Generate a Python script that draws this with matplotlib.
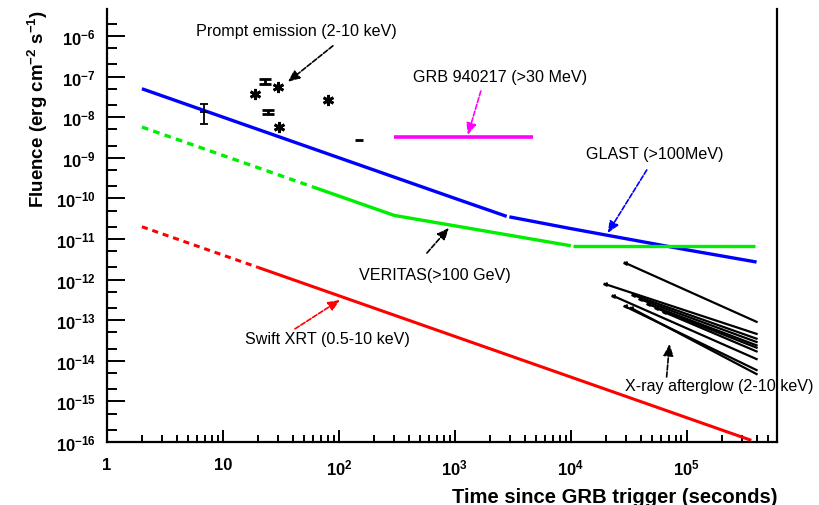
import matplotlib
matplotlib.use("Agg")
import matplotlib.pyplot as plt
from matplotlib.ticker import FixedLocator, LogLocator, NullFormatter

plt.rcParams['font.family'] = ['Liberation Sans', 'DejaVu Sans']
plt.rcParams['mathtext.fontset'] = 'custom'
plt.rcParams['mathtext.rm'] = 'Liberation Sans'
plt.rcParams['mathtext.bf'] = 'Liberation Sans:bold'
plt.rcParams['mathtext.it'] = 'Liberation Sans:italic'
plt.rcParams['mathtext.default'] = 'bf'

# ---- sensitivity curves (time [s], fluence [erg cm^-2 s^-1]) ----
glast_early_t = [2, 1000, 2800]
glast_early_f = [5.0e-8, 1.0e-10, 3.6e-11]
glast_late_t = [2950, 1e4, 1e5, 4.0e5]
glast_late_f = [3.5e-11, 1.8e-11, 5.4e-12, 2.7e-12]

veritas_dash_t = [2, 60]
veritas_dash_f = [5.7e-9, 1.9e-10]
veritas_t = [60, 300, 1.0e4]
veritas_f = [1.9e-10, 3.8e-11, 6.8e-12]
veritas_flat_t = [1.05e4, 3.9e5]
veritas_flat_f = [6.6e-12, 6.6e-12]

xrt_dash_t = [2, 20]
xrt_dash_f = [2.0e-11, 2.0e-12]
xrt_t = [20, 3.6e5]
xrt_f = [2.0e-12, 1.1e-16]

grb940217_t = [300, 4700]
grb940217_f = [3.2e-9, 3.2e-9]

# ---- prompt emission measurements ----
star_t = [18.9, 29.8, 80.4, 30.4]
star_f = [3.7e-8, 5.5e-8, 2.6e-8, 5.7e-9]
bar_t = [23.0, 24.4]
bar_f = [7.4e-8, 1.35e-8]
bar_lo = [6.4e-8, 1.2e-8]
bar_hi = [8.6e-8, 1.5e-8]
flat_t = [149]
flat_f = [2.7e-9]
flat_t_lo = [137]
flat_t_hi = [162]
cross_t = [6.9]
cross_f = [1.35e-8]
cross_lo = [6.8e-9]
cross_hi = [2.1e-8]

# ---- X-ray afterglow decays: start/end time and fluence ----
ag_t0 = [2.92e4, 1.96e4, 2.3e4, 2.92e4, 3.3e4, 3.42e4, 3.93e4, 4.6e4, 5.4e4, 6.3e4]
ag_f0 = [2.6e-12, 7.8e-13, 4.0e-13, 2.2e-13, 2.0e-13, 4.2e-13, 3.3e-13, 2.5e-13, 2.0e-13, 1.6e-13]
ag_t1 = [4.0e5] * 10
ag_f1 = [9.1e-14, 4.6e-14, 1.1e-14, 5.9e-15, 4.7e-15, 3.5e-14, 2.9e-14, 2.4e-14, 2.1e-14, 1.7e-14]

x_ticks = [1, 10, 1e2, 1e3, 1e4, 1e5]
x_ticklabels = ['1', '10', r'$10^{2}$', r'$10^{3}$', r'$10^{4}$', r'$10^{5}$']
y_exponents = [-16, -15, -14, -13, -12, -11, -10, -9, -8, -7, -6]

fig = plt.figure(figsize=(8.19, 5.06), dpi=100)
ax = fig.add_axes([107 / 819, 1 - 443 / 506, (777 - 107) / 819, (443 - 10) / 506])
ax.set_xscale('log')
ax.set_yscale('log')
ax.set_xlim(1, 6.0e5)
ax.set_ylim(1e-16, 4.6e-6)

BLUE, GREEN, RED, MAGENTA = '#0000ff', '#00ee00', '#ff0000', '#ff00ff'

ax.plot(glast_early_t, glast_early_f, color=BLUE, lw=2.4, solid_capstyle='butt')
ax.plot(glast_late_t, glast_late_f, color=BLUE, lw=2.4, solid_capstyle='butt')

ax.plot(veritas_dash_t, veritas_dash_f, color=GREEN, lw=2.4, ls=(0, (2.0, 1.6)))
ax.plot(veritas_t, veritas_f, color=GREEN, lw=2.4, solid_capstyle='butt')
ax.plot(veritas_flat_t, veritas_flat_f, color=GREEN, lw=2.4, solid_capstyle='butt')

ax.plot(xrt_dash_t, xrt_dash_f, color=RED, lw=2.2, ls=(0, (2.0, 1.6)))
ax.plot(xrt_t, xrt_f, color=RED, lw=2.2, solid_capstyle='butt')

ax.plot(grb940217_t, grb940217_f, color=MAGENTA, lw=2.6, solid_capstyle='butt')

for t0, f0, t1, f1 in zip(ag_t0, ag_f0, ag_t1, ag_f1):
    ax.plot([t0, t1], [f0, f1], color='black', lw=1.6)
    ax.plot([t0], [f0], marker='<', color='black', ms=2.5)

ax.plot(star_t, star_f, ls='none', marker=(6, 2, 0), color='black', ms=8, mew=2.0)
ax.errorbar(bar_t, bar_f,
            yerr=[[f - lo for f, lo in zip(bar_f, bar_lo)], [hi - f for f, hi in zip(bar_f, bar_hi)]],
            fmt='none', ecolor='black', elinewidth=2.0, capsize=4, capthick=2.0)
ax.errorbar(flat_t, flat_f,
            xerr=[[t - lo for t, lo in zip(flat_t, flat_t_lo)], [hi - t for t, hi in zip(flat_t, flat_t_hi)]],
            fmt='none', ecolor='black', elinewidth=2.0)
ax.errorbar(cross_t, cross_f,
            yerr=[[f - lo for f, lo in zip(cross_f, cross_lo)], [hi - f for f, hi in zip(cross_f, cross_hi)]],
            fmt='none', ecolor='black', elinewidth=1.3, capsize=3, capthick=1.3)
ax.plot(cross_t, cross_f, marker='_', color='black', ms=6, mew=1.3)

# ---- labels and arrows ----
ann_font = dict(fontsize=11.6, color='black', ha='center', va='center')


def pointer(xy_tail, xy_head, color):
    ax.annotate('', xy=xy_head, xytext=xy_tail, xycoords='data', textcoords='data',
                arrowprops=dict(arrowstyle='-|>,head_length=0.7,head_width=0.3', color=color,
                                lw=1.2, ls=(0, (3, 1.2)), shrinkA=0, shrinkB=0))


ax.text(42.6, 1.33e-6, 'Prompt emission (2-10 keV)', **ann_font)
pointer((88.8, 5.7e-7), (36.3, 7.4e-8), 'black')

ax.text(2443, 1.03e-7, 'GRB 940217 (>30 MeV)', **ann_font)
pointer((1675, 4.4e-8), (1294, 3.65e-9), MAGENTA)

ax.text(5.3e4, 1.24e-9, 'GLAST (>100MeV)', **ann_font)
pointer((4.52e4, 5.0e-10), (2.08e4, 1.4e-11), BLUE)

ax.text(673, 1.37e-12, 'VERITAS(>100 GeV)', **ann_font)
pointer((574, 4.5e-12), (888, 1.87e-11), 'black')

ax.text(80.4, 3.44e-14, 'Swift XRT (0.5-10 keV)', **ann_font)
pointer((41.8, 6.1e-14), (102, 3.15e-13), RED)

ax.text(1.92e5, 2.5e-15, 'X-ray afterglow (2-10 keV)', clip_on=False, **ann_font)
pointer((6.7e4, 4.0e-15), (7.1e4, 2.6e-14), 'black')

# ---- axes styling ----
ax.xaxis.set_major_locator(FixedLocator(x_ticks))
ax.set_xticklabels(x_ticklabels)
ax.xaxis.set_minor_locator(LogLocator(base=10, subs=range(2, 10), numticks=20))
ax.xaxis.set_minor_formatter(NullFormatter())
ax.yaxis.set_major_locator(FixedLocator([10.0 ** e for e in y_exponents]))
ax.set_yticklabels([r'$10^{%d}$' % e for e in y_exponents])
ax.yaxis.set_minor_locator(LogLocator(base=10, subs=(2, 5), numticks=30))
ax.yaxis.set_minor_formatter(NullFormatter())

ax.tick_params(which='both', direction='in', top=False, right=False, width=1.4)
ax.tick_params(axis='x', which='major', length=9, labelsize=12, pad=11)
ax.tick_params(axis='x', which='minor', length=5)
ax.tick_params(axis='y', which='major', length=13, labelsize=12, pad=8)
ax.tick_params(axis='y', which='minor', length=7)
for lbl in ax.get_xticklabels() + ax.get_yticklabels():
    lbl.set_fontweight('bold')

ax.spines['top'].set_visible(False)
for side in ('left', 'bottom', 'right'):
    ax.spines[side].set_linewidth(1.6)

ax.set_xlabel('Time since GRB trigger (seconds)', loc='right', fontsize=14.6,
              fontweight='bold', labelpad=7)
ax.set_ylabel(r'Fluence (erg cm$^{-2}$ s$^{-1}$)', loc='top', fontsize=13.5,
              fontweight='bold', labelpad=4)

fig.savefig('out.png', dpi=100)
